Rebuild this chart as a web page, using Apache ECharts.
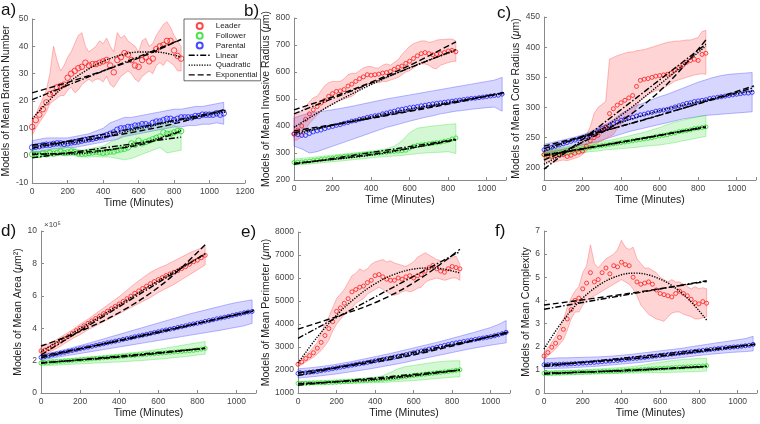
<!DOCTYPE html>
<html><head><meta charset="utf-8">
<script src="https://cdn.jsdelivr.net/npm/echarts/dist/echarts.min.js"></script>
<style>html,body{margin:0;padding:0;background:#fff}#c{width:760px;height:424px}</style>
</head><body><div id="c"></div>
<script>
// ---------- time axes (minutes) ----------
const tL = [0,20,40,60,80,100,120,140,160,180,200,220,240,260,280,300,320,340,360,380,400,420,440,460,480,500,520,540,560,580,600,620,640,660,680,700,720,740,760,780,800,820,840];
const tP = [0,20,40,60,80,100,120,140,160,180,200,220,240,260,280,300,320,340,360,380,400,420,440,460,480,500,520,540,560,580,600,620,640,660,680,700,720,740,760,780,800,820,840,860,880,900,920,940,960,980,1000,1020,1040,1060,1080];
const tBL = [0,40,80,120,160,200,240,280,320,360,400,440,480,520,560,600,640,680,720,760,800,840];
const tBP = [0,40,80,120,160,200,240,280,320,360,400,440,480,520,560,600,640,680,720,760,800,840,880,920,960,1000,1040,1080];

// ---------- a) Branch number ----------
const leaderA = [10.5,13,15,17,19.5,22.5,23,25,25.5,26,28.5,30,31,32,32.5,34,33,33.5,33.5,34,34.5,35,33,30.5,35,36,37.5,37,35,33,32.5,35,36,34.5,35.5,39,40,40.5,42,42,38.5,36.5,35.5];
const leaderALo = [7.5,10,12,14,16,19,20,21,22,22,24,25,23,24,26,27,28,27,28,28,27,29,26,25,27,29,30,31,30,28,27,29,30,31,30,33,34,33,35,34,33,31,31];
const leaderAHi = [13,15,18,21,24,30,40,35,31,33,36,38,41,44,45,40,38,39,40,42,41,43,40,38,45,43,44,42,41,40,38,42,43,40,41,44,46,48,49,47,44,42,40];
const followerA = [0.5,0.5,0.3,0.8,0.5,1,0.7,1,1.5,1,1.2,1.5,1.3,0.8,0.7,0.8,1,1.2,1.5,1.2,1,1.2,1.5,1.5,2,2.3,2.5,3,4.5,4,5.5,4.5,5,5.5,6,6.5,7,8.5,8,8,8.5,9,9];
const followerALo = [-0.5,-0.5,-0.3,0,0,0,0,-0.5,-0.5,-0.3,-0.5,-0.5,-1,-1.5,-1,0,1,2,3,1,1.5,2];
const followerAHi = [1.5,1.5,2,2.5,3,3,2.5,2,2.5,3,3.5,5,6,8,10,11,11,11,12,12,11,10];
const parentalA = [3,3.3,3.5,3.8,4,4,4.3,4.5,4.5,4.3,4.5,4.8,5,5.2,5.5,5.8,6,6.2,6.5,6.8,7,7.5,8,8.5,9.5,10,10,10.5,10.5,11,11,11.5,11.5,11,12,12.5,12.5,13,13.5,13.5,13,13.5,14,14,14,14,14.5,14.5,15,15,15,15,15.5,15,15.5];
const parentalALo = [1,1.5,2,2.5,2.5,3,3,3.5,4,4.5,5,5.5,6,7,7.5,8,8.5,9,9.5,10,10.5,10.5,11,11,11.5,11.5,12,11.5];
const parentalAHi = [5.5,6,6.5,6.5,6.5,6.5,7,7.5,8,9,10,12,13,14,14,14.5,15,15.5,16,16.5,17,17,17.5,18,18,18.5,19,19.5];
const fitA_L_lin = [[0,20.5],[840,42.5]];
const fitA_L_quad = [[0,13.5],[100,20.5],[200,26.5],[300,31],[400,34.5],[500,36.8],[600,37.9],[700,37.9],[800,36.8],[840,36]];
const fitA_L_exp = [[0,23],[210,27],[420,31.5],[630,36.5],[840,42.5]];
const fitA_F_lin = [[0,-0.8],[840,6.8]];
const fitA_F_quad = [[0,0.8],[210,0.6],[420,1.9],[630,4.8],[840,9.2]];
const fitA_F_exp = [[0,0.4],[210,1],[420,2.1],[630,4.3],[840,9]];
const fitA_P_lin = [[0,2.7],[1090,16.6]];
const fitA_P_quad = [[0,3.4],[270,5.1],[545,9],[820,12.9],[1090,16]];
const fitA_P_exp = [[0,3.9],[270,5.6],[545,8.3],[820,12],[1090,17]];

// ---------- b) Invasive radius ----------
const leaderB = [372,385,400,425,445,460,472,485,495,510,520,528,530,535,548,555,565,575,582,590,588,590,592,596,598,602,610,618,622,632,640,650,660,668,672,668,664,666,668,672,678,680,675];
const leaderBLo = [345,350,360,385,410,425,440,455,465,475,480,490,495,500,505,510,520,535,545,555,560,560,560,565,565,570,575,580,590,600,605,615,625,630,630,625,615,612,625,630,635,638,640];
const leaderBHi = [440,445,455,470,490,505,510,530,550,560,565,565,565,575,590,595,595,605,615,620,620,615,615,625,630,625,635,645,665,680,695,705,710,715,715,710,712,718,720,720,722,722,715];
const followerB = [265,266,267,268,270,272,274,276,278,279,281,283,285,287,288,290,291,293,295,296,298,299,300,302,303,305,306,307,308,310,318,325,328,330,332,334,336,338,340,343,346,352,356];
const followerBLo = [255,257,259,262,265,268,270,273,276,279,282,285,287,289,291,294,298,300,302,303,305,298];
const followerBHi = [278,280,283,286,289,292,295,298,301,304,307,311,316,325,345,375,392,396,400,403,406,408];
const parentalB = [370,368,365,365,372,378,382,385,390,395,398,402,405,410,413,418,420,425,428,432,435,438,440,445,448,452,455,460,462,465,468,470,472,475,477,480,482,484,486,488,490,492,494,496,498,500,502,503,505,507,509,511,513,514,518];
const parentalBLo = [325,315,300,305,315,325,335,345,355,365,375,385,395,402,410,418,425,432,438,445,450,455,458,462,465,468,470,455];
const parentalBHi = [430,440,448,452,456,460,465,470,476,482,488,494,500,505,510,515,520,525,530,535,540,545,550,555,560,565,570,580];
const fitB_L_lin = [[0,445],[840,683]];
const fitB_L_quad = [[0,395],[210,485],[420,560],[630,625],[840,680]];
const fitB_L_exp = [[0,460],[210,510],[420,568],[630,635],[840,712]];
const fitB_F_lin = [[0,258],[840,350]];
const fitB_F_quad = [[0,263],[420,294],[840,352]];
const fitB_F_exp = [[0,261],[420,297],[840,348]];
const fitB_P_lin = [[0,375],[1090,524]];
const fitB_P_quad = [[0,368],[270,414],[545,456],[820,490],[1090,520]];
const fitB_P_exp = [[0,382],[270,413],[545,447],[820,484],[1090,524]];

// ---------- c) Core radius ----------
const leaderC = [222,220,219,220,221,222,219,221,224,226,228,236,245,250,254,262,268,290,298,304,308,312,316,320,335,345,347,348,350,352,353,354,355,357,362,366,370,375,378,380,378,388,390];
const leaderCLo = [212,210,208,210,212,213,212,214,216,218,222,228,234,238,242,245,248,252,255,265,272,278,282,290,300,312,318,322,325,328,330,332,336,340,344,346,348,350,352,354,355,356,355];
const leaderCHi = [228,228,229,230,230,231,232,234,235,238,242,255,268,290,300,305,310,380,383,386,388,390,392,392,394,395,396,398,400,402,404,406,408,409,410,410,411,412,412,414,416,426,428];
const followerC = [222,223,224,225,226,227,228,229,230,231,232,233,234,235,236,237,238,239,240,241,242,243,244,245,246,247,248,249,250,252,253,254,255,257,258,260,261,262,263,265,266,267,268];
const followerCLo = [215,217,219,221,223,225,227,228,230,231,232,233,234,236,237,238,240,242,245,247,250,252];
const followerCHi = [229,231,233,235,237,239,241,243,245,247,250,253,256,259,263,267,272,276,279,282,285,287];
const parentalC = [230,232,234,236,238,240,242,244,246,248,250,252,254,257,261,265,267,270,273,276,279,281,283,284,286,288,289,291,292,294,295,296,297,299,301,303,305,307,308,310,311,312,313,315,316,317,318,319,320,321,322,323,324,324,325];
const parentalCLo = [223,226,229,232,235,238,241,244,248,252,256,260,263,266,269,272,275,278,281,283,285,287,288,289,290,291,292,293];
const parentalCHi = [239,242,245,248,251,255,260,266,272,280,290,297,303,308,313,318,322,327,332,337,342,346,350,353,355,356,357,358];
const fitC_L_lin = [[0,198],[840,405]];
const fitC_L_quad = [[0,206],[210,245],[420,292],[630,346],[840,402]];
const fitC_L_exp = [[0,213],[210,244],[420,282],[630,336],[840,412]];
const fitC_F_lin = [[0,220],[840,268]];
const fitC_F_quad = [[0,222],[420,243],[840,269]];
const fitC_F_exp = [[0,221],[420,244],[840,267]];
const fitC_P_lin = [[0,232],[1090,333]];
const fitC_P_quad = [[0,228],[545,290],[1090,328]];
const fitC_P_exp = [[0,236],[545,282],[1090,336]];

// ---------- d) Area (x 10^5 um^2) ----------
const leaderD = [2.6,2.65,2.75,2.9,3.05,3.2,3.35,3.5,3.68,3.85,4.0,4.15,4.3,4.45,4.6,4.75,4.9,5.05,5.2,5.35,5.5,5.65,5.82,5.98,6.15,6.3,6.45,6.6,6.75,6.88,7.0,7.12,7.25,7.35,7.45,7.55,7.68,7.8,7.95,8.1,8.2,8.35,8.5];
const leaderDLo = [2.35,2.5,2.75,3.05,3.35,3.6,3.9,4.15,4.4,4.65,4.9,5.15,5.4,5.65,5.9,6.2,6.45,6.7,7.0,7.3,7.6,7.9];
const leaderDHi = [2.85,3.05,3.3,3.6,3.9,4.25,4.55,4.9,5.25,5.6,5.95,6.35,6.75,7.1,7.45,7.7,7.9,8.15,8.4,8.65,8.85,9.05];
const followerD = [1.85,1.87,1.89,1.91,1.93,1.95,1.97,1.99,2.01,2.03,2.05,2.07,2.09,2.11,2.13,2.15,2.17,2.19,2.21,2.23,2.25,2.27,2.29,2.31,2.33,2.35,2.37,2.39,2.41,2.43,2.45,2.47,2.49,2.51,2.53,2.55,2.57,2.59,2.61,2.63,2.67,2.71,2.75];
const followerDLo = [1.68,1.7,1.72,1.75,1.77,1.8,1.82,1.85,1.87,1.9,1.92,1.95,1.98,2.01,2.05,2.09,2.13,2.18,2.23,2.28,2.34,2.4];
const followerDHi = [2.02,2.05,2.08,2.11,2.14,2.18,2.22,2.26,2.3,2.35,2.4,2.45,2.5,2.56,2.62,2.7,2.78,2.86,2.94,3.02,3.1,3.18];
const parentalD = [2.2,2.25,2.3,2.36,2.41,2.46,2.51,2.57,2.62,2.67,2.73,2.78,2.83,2.88,2.94,2.99,3.04,3.1,3.15,3.2,3.25,3.31,3.36,3.41,3.47,3.52,3.57,3.62,3.68,3.73,3.78,3.84,3.89,3.94,3.99,4.05,4.1,4.15,4.21,4.26,4.31,4.36,4.42,4.47,4.52,4.58,4.63,4.68,4.73,4.79,4.84,4.89,4.95,5.0,5.03];
const parentalDLo = [2.05,2.12,2.2,2.28,2.36,2.44,2.52,2.6,2.68,2.76,2.84,2.92,3.0,3.08,3.16,3.24,3.32,3.4,3.48,3.56,3.64,3.72,3.8,3.88,3.97,4.06,4.15,4.3];
const parentalDHi = [2.35,2.45,2.56,2.68,2.8,2.93,3.06,3.2,3.34,3.48,3.62,3.76,3.9,4.04,4.18,4.32,4.46,4.6,4.74,4.88,5.0,5.12,5.24,5.36,5.48,5.58,5.67,5.75];
const fitD_L_lin = [[0,2.35],[840,8.6]];
const fitD_L_quad = [[0,2.55],[210,4.05],[420,5.6],[630,7.15],[840,8.55]];
const fitD_L_exp = [[0,2.9],[210,3.85],[420,5.1],[630,6.8],[840,9.15]];
const fitD_F_lin = [[0,1.84],[840,2.76]];
const fitD_F_quad = [[0,1.86],[420,2.25],[840,2.74]];
const fitD_F_exp = [[0,1.87],[420,2.24],[840,2.77]];
const fitD_P_lin = [[0,2.17],[1090,5.07]];
const fitD_P_quad = [[0,2.2],[545,3.65],[1090,5.05]];
const fitD_P_exp = [[0,2.28],[545,3.58],[1090,5.12]];

// ---------- e) Perimeter ----------
const leaderE = [2250,2350,2500,2620,2750,2950,3200,3500,3800,4100,4550,4700,4900,5100,5400,5500,5600,5650,5800,5900,6100,6150,6050,5950,5900,5900,6000,5950,6050,6100,6000,6100,6150,6300,6450,6550,6400,6300,6250,6400,6500,6450,6400];
const leaderELo = [2150,2250,2350,2450,2550,2700,2850,3050,3300,3700,4000,4200,4400,4500,4700,4900,5000,5100,5300,5400,5500,5600,5500,5400,5300,5250,5300,5400,5450,5400,5450,5550,5600,5800,5900,5950,6000,5950,5900,5950,6000,6000,5900];
const leaderEHi = [2350,2450,2650,2800,3000,3200,3600,4000,4300,4700,5100,5300,5500,5800,6100,6200,6400,6300,6400,6600,6700,6750,6800,6700,6750,6650,6600,6550,6500,6600,6700,6900,7000,7100,7000,6900,6800,6750,6700,6800,6900,6950,6600];
const followerE = [1420,1420,1425,1430,1435,1440,1445,1450,1455,1460,1470,1480,1490,1500,1510,1520,1530,1540,1550,1560,1570,1585,1600,1615,1630,1650,1670,1700,1720,1740,1760,1780,1800,1820,1840,1860,1880,1900,1920,1940,1960,1990,2010];
const followerELo = [1350,1360,1370,1380,1390,1400,1410,1420,1430,1440,1450,1460,1480,1500,1520,1540,1570,1600,1630,1660,1690,1700];
const followerEHi = [1500,1510,1520,1530,1550,1570,1590,1610,1630,1660,1690,1750,1900,2050,2150,2200,2250,2300,2350,2380,2400,2400];
const parentalE = [1850,1860,1880,1900,1920,1940,1970,2000,2030,2060,2090,2120,2150,2180,2210,2240,2270,2300,2330,2360,2400,2430,2460,2490,2520,2560,2600,2630,2670,2710,2750,2790,2830,2870,2910,2950,2990,3030,3070,3110,3150,3180,3210,3240,3270,3300,3330,3360,3390,3420,3450,3490,3530,3580,3640];
const parentalELo = [1650,1680,1710,1750,1790,1830,1880,1930,1980,2030,2090,2150,2210,2270,2340,2410,2480,2550,2620,2690,2760,2830,2900,2960,3020,3080,3130,3180];
const parentalEHi = [2050,2080,2110,2150,2200,2250,2310,2370,2440,2510,2580,2650,2720,2800,2880,2960,3040,3120,3200,3290,3380,3470,3560,3650,3750,3850,3980,4150];
const fitE_L_lin = [[0,3380],[840,7150]];
const fitE_L_quad = [[0,2300],[100,3430],[200,4380],[300,5150],[400,5750],[500,6160],[600,6390],[700,6440],[840,6220]];
const fitE_L_exp = [[0,3780],[210,4350],[420,5000],[630,5950],[840,7250]];
const fitE_F_lin = [[0,1340],[840,2000]];
const fitE_F_quad = [[0,1420],[420,1580],[840,2010]];
const fitE_F_exp = [[0,1400],[420,1620],[840,1990]];
const fitE_P_lin = [[0,1760],[1090,3600]];
const fitE_P_quad = [[0,1850],[545,2620],[1090,3650]];
const fitE_P_exp = [[0,1880],[545,2560],[1090,3660]];

// ---------- f) Complexity ----------
const leaderF = [1.6,1.75,1.98,2.15,2.4,2.75,3.2,3.6,4.0,4.1,4.5,4.75,5.2,4.8,4.9,5.2,5.4,5.15,5.5,5.45,5.65,5.55,5.5,5.0,4.8,4.7,4.75,4.8,4.7,4.45,4.3,4.25,4.2,4.15,4.3,4.4,4.3,4.2,4.05,3.9,3.85,3.95,3.88];
const leaderFLo = [1.45,1.6,1.75,1.9,2.1,2.3,2.7,3.2,3.5,3.5,3.8,4.0,4.1,4.2,4.3,4.4,4.5,4.6,4.7,4.8,4.9,4.8,4.7,4.5,4.2,3.8,3.6,3.4,3.3,3.2,3.15,3.1,3.3,3.45,3.5,3.5,3.4,3.35,3.3,3.2,3.2,3.25,3.3];
const leaderFHi = [1.75,1.95,2.2,2.45,2.75,3.15,3.7,4.1,4.4,4.6,5.2,5.5,6.4,5.6,5.4,5.6,5.8,5.9,6.0,6.2,6.6,6.3,6.2,6.3,5.8,5.6,5.4,5.4,5.3,5.2,5.0,4.9,4.8,4.9,4.8,4.8,4.7,4.6,4.5,4.6,4.5,4.55,4.5];
const followerF = [0.85,0.86,0.86,0.87,0.87,0.88,0.88,0.89,0.89,0.9,0.9,0.91,0.91,0.92,0.92,0.93,0.93,0.94,0.94,0.95,0.96,0.97,0.98,0.99,1.0,1.01,1.02,1.03,1.04,1.05,1.06,1.07,1.08,1.09,1.1,1.11,1.12,1.13,1.14,1.15,1.16,1.17,1.18];
const followerFLo = [0.75,0.76,0.77,0.78,0.79,0.8,0.81,0.82,0.83,0.84,0.85,0.86,0.86,0.87,0.88,0.88,0.89,0.9,0.91,0.92,0.93,0.95];
const followerFHi = [0.95,0.96,0.97,0.98,0.99,1.0,1.02,1.04,1.06,1.08,1.1,1.13,1.17,1.22,1.28,1.33,1.38,1.42,1.45,1.47,1.5,1.5];
const parentalF = [1.22,1.22,1.23,1.23,1.24,1.25,1.25,1.26,1.27,1.28,1.29,1.3,1.31,1.32,1.34,1.35,1.37,1.38,1.4,1.41,1.43,1.45,1.47,1.49,1.5,1.52,1.54,1.56,1.58,1.6,1.62,1.64,1.66,1.68,1.7,1.72,1.74,1.76,1.78,1.8,1.82,1.84,1.86,1.88,1.9,1.92,1.94,1.96,1.97,1.99,2.0,2.02,2.04,2.06,2.1];
const parentalFLo = [1.05,1.06,1.07,1.08,1.1,1.12,1.14,1.16,1.19,1.22,1.25,1.28,1.31,1.34,1.38,1.42,1.46,1.5,1.54,1.58,1.62,1.66,1.69,1.72,1.75,1.77,1.79,1.82];
const parentalFHi = [1.48,1.5,1.52,1.52,1.53,1.54,1.55,1.56,1.58,1.6,1.63,1.66,1.7,1.74,1.78,1.82,1.86,1.9,1.94,2.0,2.05,2.1,2.15,2.2,2.25,2.3,2.35,2.45];
const fitF_L_lin = [[0,3.62],[840,4.85]];
const fitF_L_quad = [[0,1.9],[100,3.15],[200,4.1],[300,4.75],[400,5.11],[470,5.18],[550,5.08],[650,4.7],[750,4.02],[840,3.15]];
const fitF_L_exp = [[0,3.8],[420,4.28],[840,4.82]];
const fitF_F_lin = [[0,0.82],[840,1.15]];
const fitF_F_quad = [[0,0.87],[420,0.95],[840,1.16]];
const fitF_F_exp = [[0,0.85],[420,0.97],[840,1.14]];
const fitF_P_lin = [[0,1.15],[1090,2.1]];
const fitF_P_quad = [[0,1.23],[545,1.55],[1090,2.08]];
const fitF_P_exp = [[0,1.2],[545,1.55],[1090,2.12]];

const markerNames = ['Leader','Follower','Parental'];
const fitNames = ['Linear','Quadratic','Exponential'];

// ---------- styling / layout ----------
const FONT = '"Liberation Sans", Arial, Helvetica, sans-serif';
const COL = {L:'#ff1a1a', F:'#22dd22', P:'#1a1aff'};
const BAND = {L:['rgba(255,40,40,0.20)','rgba(255,70,70,0.45)'], F:['rgba(40,220,40,0.20)','rgba(60,220,60,0.45)'], P:['rgba(50,50,255,0.20)','rgba(80,80,255,0.50)']};
const DASH = {lin:[6,2,1.5,2], quad:[1.3,1.3], exp:[6,3]};
const NAME = {L:'Leader', F:'Follower', P:'Parental'};

const panels = [
 {grid:{left:31,top:19,width:214,height:164}, xMax:1200, y:{min:-10,max:50,interval:10}, yName:'Models of Mean Branch Number', yGap:17, size:5.5,
  L:[leaderA,tL,leaderALo,leaderAHi], F:[followerA,tBL,followerALo,followerAHi], P:[parentalA,tBP,parentalALo,parentalAHi],
  fits:{L:[fitA_L_lin,fitA_L_quad,fitA_L_exp],F:[fitA_F_lin,fitA_F_quad,fitA_F_exp],P:[fitA_P_lin,fitA_P_quad,fitA_P_exp]}},
 {grid:{left:294,top:18,width:212,height:162}, xMax:1100, y:{min:200,max:800,interval:100}, yName:'Models of Mean Invasive Radius ({i|μ}m)', yGap:18, size:4,
  L:[leaderB,tL,leaderBLo,leaderBHi], F:[followerB,tBL,followerBLo,followerBHi], P:[parentalB,tBP,parentalBLo,parentalBHi],
  fits:{L:[fitB_L_lin,fitB_L_quad,fitB_L_exp],F:[fitB_F_lin,fitB_F_quad,fitB_F_exp],P:[fitB_P_lin,fitB_P_quad,fitB_P_exp]}},
 {grid:{left:544,top:17,width:212,height:163}, xMax:1100, y:{min:180,max:450}, hideY:180, yName:'Models of Mean Core Radius ({i|μ}m)', yGap:18, size:4,
  L:[leaderC,tL,leaderCLo,leaderCHi], F:[followerC,tBL,followerCLo,followerCHi], P:[parentalC,tBP,parentalCLo,parentalCHi],
  fits:{L:[fitC_L_lin,fitC_L_quad,fitC_L_exp],F:[fitC_F_lin,fitC_F_quad,fitC_F_exp],P:[fitC_P_lin,fitC_P_quad,fitC_P_exp]}},
 {grid:{left:41,top:231,width:215,height:162}, xMax:1100, y:{min:0,max:10,interval:2}, yName:'Models of Mean Area ({i|μ}m²)', yGap:15, size:4,
  L:[leaderD,tBL,leaderDLo,leaderDHi], F:[followerD,tBL,followerDLo,followerDHi], P:[parentalD,tBP,parentalDLo,parentalDHi],
  fits:{L:[fitD_L_lin,fitD_L_quad,fitD_L_exp],F:[fitD_F_lin,fitD_F_quad,fitD_F_exp],P:[fitD_P_lin,fitD_P_quad,fitD_P_exp]}},
 {grid:{left:298,top:232,width:212,height:161}, xMax:1100, y:{min:1000,max:8000,interval:1000}, yName:'Models of Mean Perimeter ({i|μ}m)', yGap:26, size:4,
  L:[leaderE,tL,leaderELo,leaderEHi], F:[followerE,tBL,followerELo,followerEHi], P:[parentalE,tBP,parentalELo,parentalEHi],
  fits:{L:[fitE_L_lin,fitE_L_quad,fitE_L_exp],F:[fitE_F_lin,fitE_F_quad,fitE_F_exp],P:[fitE_P_lin,fitE_P_quad,fitE_P_exp]}},
 {grid:{left:544,top:231,width:213,height:162}, xMax:1100, y:{min:0,max:7,interval:1}, yName:'Models of Mean Complexity', yGap:11, size:4,
  L:[leaderF,tL,leaderFLo,leaderFHi], F:[followerF,tBL,followerFLo,followerFHi], P:[parentalF,tBP,parentalFLo,parentalFHi],
  fits:{L:[fitF_L_lin,fitF_L_quad,fitF_L_exp],F:[fitF_F_lin,fitF_F_quad,fitF_F_exp],P:[fitF_P_lin,fitF_P_quad,fitF_P_exp]}}
];

function pairs(ts, vs){ return ts.map((t,i)=>[t, vs[i]]); }
function bandSeries(gi, ts, lo, hi, fill, stroke){
  return {type:'custom', xAxisIndex:gi, yAxisIndex:gi, silent:true, z:1,
    data: ts.map((t,i)=>[t, lo[i], hi[i]]), encode:{x:0, y:[1,2]},
    renderItem:function(params, api){
      if (params.dataIndex !== 0) return null;
      const p = [];
      for (let i=0;i<ts.length;i++) p.push(api.coord([ts[i], lo[i]]));
      for (let i=ts.length-1;i>=0;i--) p.push(api.coord([ts[i], hi[i]]));
      return {type:'polygon', shape:{points:p}, style:{fill:fill, stroke:stroke, lineWidth:0.8}};
    }};
}
function markerSeries(gi, name, ts, vs, color, size){
  return {type:'scatter', name:name, xAxisIndex:gi, yAxisIndex:gi, data:pairs(ts,vs), symbol:'circle', symbolSize:size,
    itemStyle:{color:'rgba(0,0,0,0)', borderColor:color, borderWidth:1}, z:3, silent:true};
}
function fitSeries(gi, name, data, dash){
  return {type:'line', name:name, xAxisIndex:gi, yAxisIndex:gi, data:data, symbol:'none', showSymbol:false,
    itemStyle:{color:'rgba(0,0,0,0)', borderWidth:0, opacity:0},
    smooth: data.length>2 ? 0.35 : false, lineStyle:{color:'#000', width:1.4, type:dash}, z:4, silent:true};
}

const grids=[], xAxes=[], yAxes=[], series=[];
panels.forEach((p,i)=>{
  grids.push(p.grid);
  xAxes.push({gridIndex:i, type:'value', min:0, max:p.xMax, interval:200,
    name:'Time (Minutes)', nameLocation:'middle', nameGap:15,
    nameTextStyle:{fontSize:10.5, color:'#222', fontFamily:FONT},
    axisLine:{show:true, onZero:false, lineStyle:{color:'#8a8a8a', width:1}},
    axisTick:{show:true, inside:true, length:3, lineStyle:{color:'#8a8a8a'}},
    axisLabel:{fontSize:8.5, color:'#444', margin:4, fontFamily:FONT, formatter:v=> (v===1100?'':String(v))},
    splitLine:{show:false}});
  const ya = {gridIndex:i, type:'value', min:p.y.min, max:p.y.max,
    name:p.yName, nameLocation:'middle', nameGap:p.yGap, nameRotate:90,
    nameTextStyle:{fontSize:10.5, color:'#222', fontFamily:FONT, rich:{i:{fontStyle:'italic', fontSize:10.5, color:'#222', fontFamily:FONT}}},
    axisLine:{show:true, onZero:false, lineStyle:{color:'#8a8a8a', width:1}},
    axisTick:{show:true, inside:true, length:3, lineStyle:{color:'#8a8a8a'}},
    axisLabel:{fontSize:8.5, color:'#444', margin:4, fontFamily:FONT, formatter:v=> (p.hideY!==undefined && v===p.hideY ? '' : String(v))},
    splitLine:{show:false}};
  if (p.y.interval) ya.interval = p.y.interval;
  yAxes.push(ya);
  ['P','F','L'].forEach(k=>{ const d=p[k]; series.push(bandSeries(i, d[1], d[2], d[3], BAND[k][0], BAND[k][1])); });
  ['P','F','L'].forEach(k=>{ const d=p[k]; series.push(markerSeries(i, NAME[k], k==='P'?tP:tL, d[0], COL[k], p.size)); });
  ['L','F','P'].forEach(k=>{ const f=p.fits[k];
    series.push(fitSeries(i,'Linear',f[0],DASH.lin));
    series.push(fitSeries(i,'Quadratic',f[1],DASH.quad));
    series.push(fitSeries(i,'Exponential',f[2],DASH.exp)); });
});

const legendData = markerNames.map(n=>({name:n}))
  .concat(fitNames.map(n=>({name:n, itemStyle:{opacity:0, color:'rgba(0,0,0,0)', borderWidth:0}})));

const letters = [['a)',1,2],['b)',244,3],['c)',497,5],['d)',1,223],['e)',241,224],['f)',495,223]];
const graphics = letters.map(l=>({type:'text', left:l[1], top:l[2], style:{text:l[0], fontSize:17, fill:'#111', fontFamily:FONT}}));
graphics.push({type:'text', left:44, top:221, style:{text:'×10⁵', fontSize:8, fill:'#444', fontFamily:FONT}});

const chart = echarts.init(document.getElementById('c'), null, {renderer:'canvas'});
chart.setOption({
  animation:false,
  backgroundColor:'#fff',
  textStyle:{fontFamily:FONT},
  grid:grids, xAxis:xAxes, yAxis:yAxes, series:series,
  graphic:graphics,
  legend:{data:legendData, orient:'vertical', left:184, top:19, itemWidth:22, itemHeight:6, itemGap:0,
    padding:[2,3,1,4], selectedMode:false, backgroundColor:'#fff', borderColor:'#444', borderWidth:0.8,
    lineStyle:{color:'#000', width:1.4},
    textStyle:{fontSize:8, color:'#222', lineHeight:9.8, fontFamily:FONT}}
});
</script></body></html>
